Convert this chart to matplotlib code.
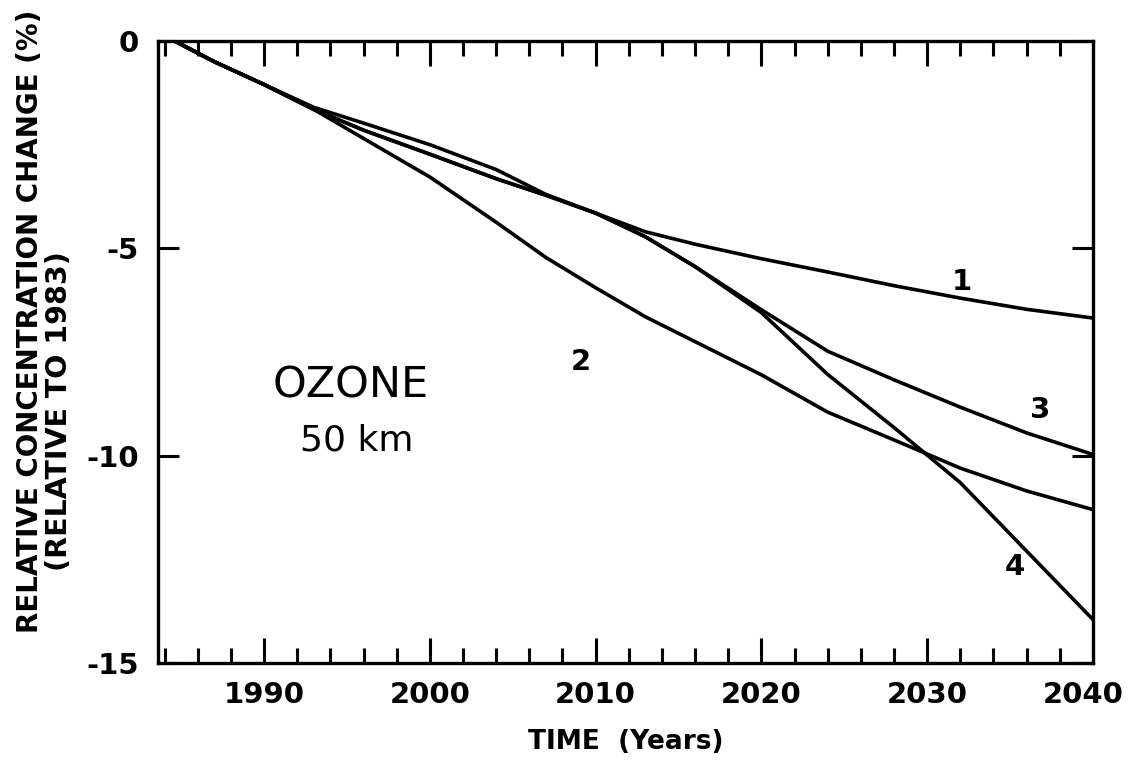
import matplotlib
matplotlib.use('Agg')
import matplotlib.pyplot as plt
import matplotlib.transforms as mtransforms
from matplotlib.ticker import MultipleLocator

# values (ozone change at 50 km, % relative to 1983)
years = [1984.6, 1987, 1990, 1993, 1996, 2000, 2004, 2007, 2010, 2013, 2016,
         2020, 2024, 2028, 2032, 2036, 2040]
curve1 = [0.0, -0.5, -1.05, -1.6, -1.98, -2.5, -3.1, -3.7, -4.15, -4.6, -4.9,
          -5.25, -5.57, -5.9, -6.2, -6.47, -6.68]
curve2 = [0.0, -0.5, -1.05, -1.65, -2.35, -3.28, -4.37, -5.22, -5.95, -6.65, -7.25,
          -8.05, -8.95, -9.62, -10.3, -10.85, -11.3]
curve3 = [0.0, -0.5, -1.05, -1.65, -2.15, -2.73, -3.32, -3.72, -4.15, -4.72, -5.44,
          -6.48, -7.48, -8.17, -8.83, -9.45, -9.97]
curve4 = [0.0, -0.5, -1.05, -1.65, -2.15, -2.73, -3.32, -3.72, -4.15, -4.72, -5.44,
          -6.55, -8.04, -9.32, -10.65, -12.3, -13.95]

curve_labels = ['1', '2', '3', '4']
label_x = [2032.1, 2009.1, 2036.8, 2035.3]
label_y = [-5.82, -7.73, -8.89, -12.68]

plt.rcParams['font.family'] = 'DejaVu Sans'
plt.rcParams['axes.unicode_minus'] = False

fig = plt.figure(figsize=(11.29, 7.74), dpi=100)
ax = fig.add_axes([0.140, 0.1434, 0.828, 0.8036])

for c in [curve1, curve2, curve3, curve4]:
    ax.plot(years, c, color='black', lw=2.6, solid_capstyle='round')

for t, x, y in zip(curve_labels, label_x, label_y):
    ax.text(x, y, t, fontsize=21, fontweight='bold', ha='center', va='center')

ax.text(1995.2, -8.3, 'OZONE', fontsize=31, ha='center', va='center')
ax.text(1995.6, -9.64, '50 km', fontsize=26, ha='center', va='center')

ax.set_xlim(1983.6, 2040)
ax.set_ylim(-15, 0)

ax.set_xticks([1990, 2000, 2010, 2020, 2030, 2040])
ax.xaxis.set_minor_locator(MultipleLocator(2))
ax.set_yticks([0, -5, -10, -15])
ax.set_yticklabels(['0', '-5', '-10', '-15'])

ax.tick_params(axis='x', which='major', direction='in', length=18, width=2.2,
               top=True, labelsize=21, pad=13)
ax.tick_params(axis='x', which='minor', direction='in', length=11, width=2.2, top=True)
ax.tick_params(axis='y', direction='in', length=15, width=2.2, right=True,
               labelsize=21, pad=14)
for lab in ax.get_xticklabels() + ax.get_yticklabels():
    lab.set_fontweight('bold')

# last year label sits a bit left of its tick in the original
last = ax.get_xticklabels()[-1]
last.set_transform(last.get_transform() +
                   mtransforms.ScaledTranslation(-10 / 100, 0, fig.dpi_scale_trans))

for s in ax.spines.values():
    s.set_linewidth(2.4)

ax.set_xlabel('TIME  (Years)', fontsize=19, fontweight='bold', labelpad=14)

fig.text(0.027, 0.585, 'RELATIVE CONCENTRATION CHANGE (%)', rotation=90,
         fontsize=20, fontweight='bold', ha='center', va='center')
fig.text(0.052, 0.469, '(RELATIVE TO 1983)', rotation=90,
         fontsize=20.5, fontweight='bold', ha='center', va='center')

fig.savefig('out.png', dpi=100)
